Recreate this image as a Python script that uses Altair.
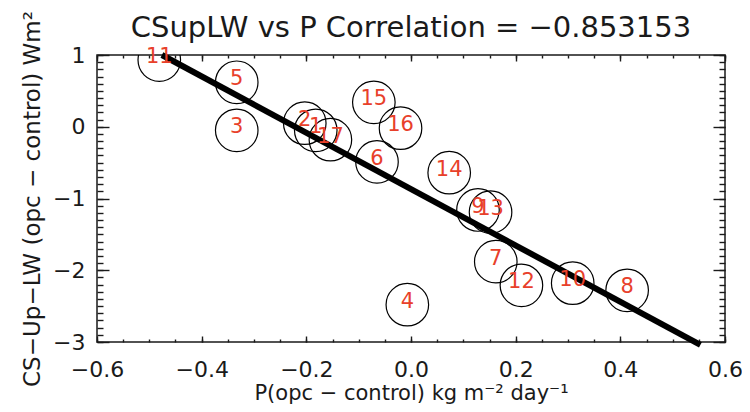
import altair as alt
import pandas as pd

# ---- data ----
labels = ["1", "2", "3", "4", "5", "6", "7", "8", "9", "10", "11", "12", "13", "14", "15", "16", "17"]
p_diff = [-0.182, -0.203, -0.333, -0.007, -0.333, -0.065, 0.162, 0.413, 0.128, 0.309,
          -0.481, 0.211, 0.152, 0.073, -0.071, -0.020, -0.154]
lw_diff = [-0.05, 0.05, -0.05, -2.48, 0.62, -0.49, -1.88, -2.28, -1.16, -2.18,
           0.93, -2.21, -1.19, -0.64, 0.34, -0.02, -0.18]

fit_x = [-0.476, 0.553]
fit_y = [1.0, -3.04]

x_major = [-0.6, -0.4, -0.2, 0.0, 0.2, 0.4, 0.6]
x_minor = [-0.6, -0.55, -0.5, -0.45, -0.4, -0.35, -0.3, -0.25, -0.2, -0.15, -0.1, -0.05,
           0.0, 0.05, 0.1, 0.15, 0.2, 0.25, 0.3, 0.35, 0.4, 0.45, 0.5, 0.55, 0.6]
y_major = [-3, -2, -1, 0, 1]
y_minor = [-3.0, -2.9, -2.8, -2.7, -2.6, -2.5, -2.4, -2.3, -2.2, -2.1,
           -2.0, -1.9, -1.8, -1.7, -1.6, -1.5, -1.4, -1.3, -1.2, -1.1,
           -1.0, -0.9, -0.8, -0.7, -0.6, -0.5, -0.4, -0.3, -0.2, -0.1,
           0.0, 0.1, 0.2, 0.3, 0.4, 0.5, 0.6, 0.7, 0.8, 0.9, 1.0]

pts = pd.DataFrame({"label": labels, "p": p_diff, "lw": lw_diff})
fit = pd.DataFrame({"p": fit_x, "lw": fit_y})

FONT = "DejaVu Sans"
INK = "#1a1a1a"
RED = "#e8402a"

xs = alt.Scale(domain=[-0.6, 0.6], nice=False, zero=False)
ys = alt.Scale(domain=[-3, 1], nice=False, zero=False)


def xaxis(orient, values, size, labels_on=False, title=None):
    kw = dict(orient=orient, values=values, tickSize=size, offset=-size, domain=False,
              grid=False, ticks=True, tickColor=INK, tickWidth=1.4, labels=labels_on)
    if labels_on:
        kw.update(format=".1f", labelFont=FONT, labelFontSize=22, labelColor=INK,
                  labelPadding=17, labelFlush=False)
    if title:
        kw.update(title=title, titleFont=FONT, titleFontSize=21, titleFontWeight="normal",
                  titleColor=INK, titlePadding=2)
    else:
        kw.update(title=None)
    return alt.Axis(**kw)


def yaxis(orient, values, size, labels_on=False, title=None):
    kw = dict(orient=orient, values=values, tickSize=size, offset=-size, domain=False,
              grid=False, ticks=True, tickColor=INK, tickWidth=1.4, labels=labels_on)
    if labels_on:
        kw.update(format="d", labelFont=FONT, labelFontSize=22, labelColor=INK,
                  labelPadding=12, labelFlush=False)
    if title:
        kw.update(title=title, titleFont=FONT, titleFontSize=23, titleFontWeight="normal",
                  titleColor=INK, titlePadding=8)
    else:
        kw.update(title=None)
    return alt.Axis(**kw)


circles = alt.Chart(pts).mark_point(
    shape="circle", filled=False, size=1810, stroke="black", strokeWidth=1.2,
    opacity=1, clip=True
).encode(
    x=alt.X("p:Q", scale=xs,
            axis=xaxis("bottom", x_major, 6, True, "P(opc \u2212 control) kg m\u207b\u00b2 day\u207b\u00b9")),
    y=alt.Y("lw:Q", scale=ys,
            axis=yaxis("left", y_major, 12, True, "CS\u2212Up\u2212LW (opc \u2212 control) Wm\u00b2")),
)

line = alt.Chart(fit).mark_line(color="black", strokeWidth=6, strokeCap="butt").encode(
    x=alt.X("p:Q", scale=xs, axis=xaxis("top", x_major, 6)),
    y=alt.Y("lw:Q", scale=ys, axis=yaxis("right", y_major, 12)),
)

text = alt.Chart(pts).mark_text(
    font=FONT, fontSize=21, color=RED, align="center", baseline="middle", dy=-3
).encode(
    x=alt.X("p:Q", scale=xs, axis=xaxis("bottom", x_minor, 3)),
    y=alt.Y("lw:Q", scale=ys, axis=yaxis("left", y_minor, 6)),
    text="label:N",
)

ghost = alt.Chart(pts).mark_point(opacity=0, size=1).encode(
    x=alt.X("p:Q", scale=xs, axis=xaxis("top", x_minor, 3)),
    y=alt.Y("lw:Q", scale=ys, axis=yaxis("right", y_minor, 6)),
)

chart = alt.layer(circles, line, text, ghost).resolve_axis(
    x="independent", y="independent"
).properties(
    width=628, height=287,
    title=alt.TitleParams("CSupLW vs P Correlation = \u22120.853153", font=FONT, fontSize=29,
                          fontWeight="normal", color=INK, offset=-25, anchor="middle",
                          baseline="alphabetic", dy=30),
    autosize=alt.AutoSizeParams(type="none"),
    padding={"left": 89, "top": 47, "right": 17, "bottom": 62},
    background="white",
).configure_view(stroke=INK, strokeWidth=1.5)

chart.save("out.html", embed_options={"renderer": "svg", "actions": False})
